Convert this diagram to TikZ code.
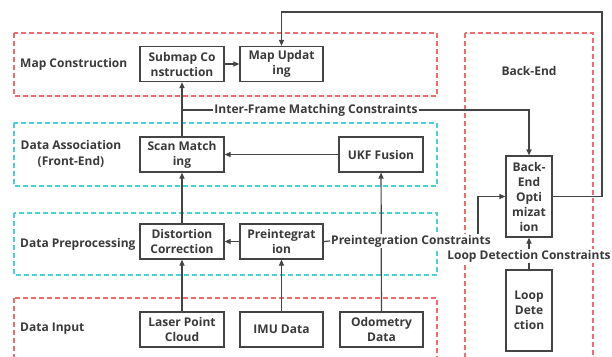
\documentclass[tikz,border=0pt]{standalone}
\usepackage{fontspec}
\setmainfont{Open Sans}
\usetikzlibrary{arrows.meta}
\definecolor{ink}{RGB}{58,58,58}
\definecolor{edge}{RGB}{68,68,68}
\definecolor{grpred}{RGB}{238,108,108}
\definecolor{grpcyan}{RGB}{78,208,218}
\tikzset{
  grp/.style={dash pattern=on 5pt off 3pt, line width=1.1pt},
  blk/.style={draw=edge, line width=1.2pt, fill=white, text=ink, align=center,
    font=\fontsize{12}{15}\selectfont\bfseries, inner sep=1pt},
  grplbl/.style={text=ink, align=center, font=\fontsize{12}{16}\selectfont\bfseries, inner sep=0pt},
  lbl/.style={fill=white, text=ink, font=\fontsize{12}{15}\selectfont\bfseries, inner sep=1pt},
  arr/.style={draw=edge, line width=1.2pt, -{Triangle[length=6pt,width=5pt]}},
  ln/.style={draw=edge, line width=1.2pt},
}
\begin{document}
\begin{tikzpicture}[x=1pt,y=-1pt]
\useasboundingbox (0,0) rectangle (612,356);
\clip (0,0) rectangle (612,356);

% dashed group frames
\draw[grp, draw=grpred]  (14,33)  rectangle (437,96);
\draw[grp, draw=grpcyan] (14,123) rectangle (437,186);
\draw[grp, draw=grpcyan] (14,213) rectangle (437,275);
\draw[grp, draw=grpred]  (14,298) rectangle (437,370);
\draw[grp, draw=grpred]  (465,33) rectangle (593,370);

% group captions
\node[grplbl, anchor=west] (gmap) at (20,64)  {Map Construction};
\node[grplbl] (gassoc) at (71,154) {Data Association\\(Front-End)};
\node[grplbl, anchor=west] (gpre) at (20,244) {Data Preprocessing};
\node[grplbl, anchor=west] (ginp) at (20,329) {Data Input};
\node[grplbl] (gback) at (529,71) {Back-End};

% processing blocks
\node[blk, minimum width=84pt, minimum height=35pt] (submap) at (182,64)  {Submap Co\\nstruction};
\node[blk, minimum width=83pt, minimum height=35pt] (mapupd) at (281.5,64) {Map Updat\\ing};
\node[blk, minimum width=84pt, minimum height=35pt] (scan)   at (182,154.5) {Scan Match\\ing};
\node[blk, minimum width=84pt, minimum height=35pt] (ukf)    at (381,154.5) {UKF Fusion};
\node[blk, minimum width=84pt, minimum height=35pt] (dist)   at (182,241.5) {Distortion\\Correction};
\node[blk, minimum width=83pt, minimum height=35pt] (pre)    at (281.5,241.5) {Preintegrat\\ion};
\node[blk, minimum width=84pt, minimum height=35pt] (laser)  at (182,329.5) {Laser Point\\Cloud};
\node[blk, minimum width=83pt, minimum height=35pt] (imu)    at (281.5,329.5) {IMU Data};
\node[blk, minimum width=83pt, minimum height=35pt] (odo)    at (381.5,329.5) {Odometry\\Data};
\node[blk, minimum width=46pt, minimum height=81pt] (beopt)  at (529,196.5) {Back-\\End\\Opti\\mizat\\ion};
\node[blk, minimum width=46pt, minimum height=81pt] (loop)   at (529,310.5) {Loop\\Dete\\ction};

% data flow
\draw[arr] (laser) -- (dist);
\draw[arr] (imu) -- (pre);
\draw[arr] (odo) -- (ukf);
\draw[arr] (pre) -- (dist);
\draw[arr] (dist) -- (scan);
\draw[arr] (ukf) -- (scan);
\draw[arr] (scan) -- (submap);
\draw[arr] (submap) -- (mapupd);

% feedback from back-end optimization to map updating
\coordinate (topR) at (602,12);
\draw[arr] (beopt.east) -| (topR) -| (mapupd.north);

% constraint labels on the connectors
\node[lbl] (ifc) at (316,110) {Inter-Frame Matching Constraints};
\node[lbl] (pcl) at (411,241) {Preintegration Constraints};
\node[lbl] (ldc) at (529,256) {Loop Detection Constraints};

\coordinate (ifj) at (182,110);
\draw[ln] (ifj) -- (ifc.west);
\draw[arr] (ifc.east) -| (beopt.north);

\draw[ln] (pre.east) -- (pcl.west);
\draw[arr] ([xshift=67pt]pcl.north) |- (beopt.west);

\draw[ln] (loop.north) -- (ldc.south);
\draw[arr] (ldc.north) -- (beopt.south);
\end{tikzpicture}
\end{document}
